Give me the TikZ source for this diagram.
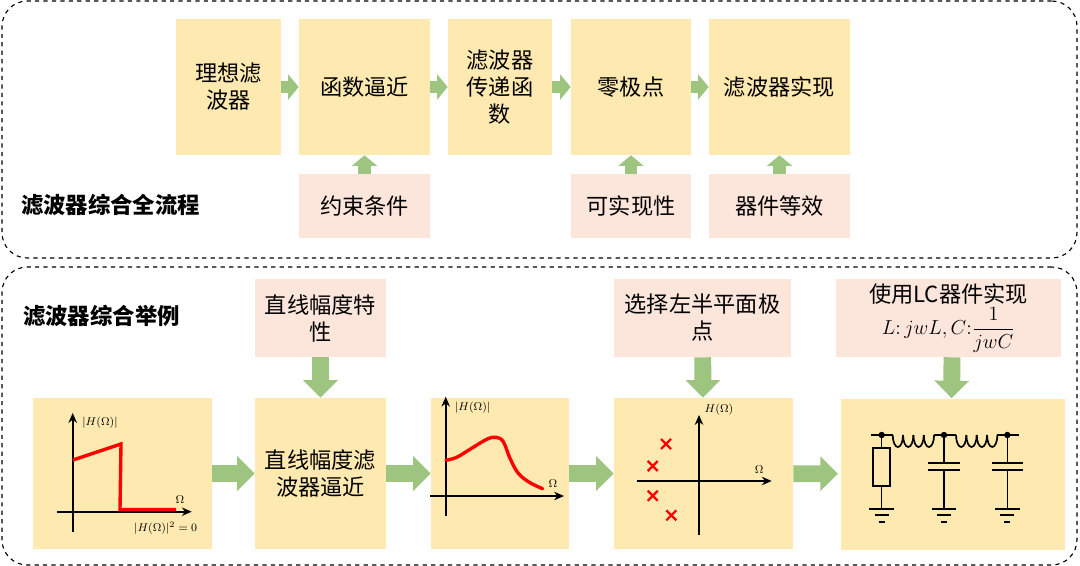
\documentclass[tikz,border=0pt]{standalone}
\usepackage{amsmath}
\usepackage{fontspec}
\setmainfont{Noto Sans CJK SC}
\usetikzlibrary{arrows.meta}
\definecolor{boxyellow}{HTML}{FEE9B0}
\definecolor{boxpink}{HTML}{FCE5DA}
\definecolor{arrowgreen}{HTML}{9DC580}
\tikzset{
	panel/.style 2 args={draw,dashed,line width=0.8pt,rounded corners=18pt,minimum width=#1*0.025cm,minimum height=#2*0.025cm,inner sep=0},
	yellowbox/.style 2 args={fill=boxyellow,minimum width=#1*0.025cm,minimum height=#2*0.025cm,inner sep=0,align=center,font=\fontsize{15.8}{19.2}\selectfont},
	pinkbox/.style 2 args={fill=boxpink,minimum width=#1*0.025cm,minimum height=#2*0.025cm,inner sep=0,align=center,font=\fontsize{15.8}{19.2}\selectfont},
	title/.style={font=\fontsize{15.9}{19.2}\selectfont\bfseries,inner sep=0},
	smallflow/.style={arrowgreen,line width=9pt,-{Triangle[width=17.5pt,length=7.5pt]}},
	bigflow/.style={arrowgreen,line width=12pt,-{Triangle[width=24pt,length=12.5pt]}},
	axis/.style={line width=1.6pt,-{Stealth[length=7pt,width=6pt]}},
	redcurve/.style={red,line width=2.4pt},
	polemark/.style={red,line width=1.6pt},
	wire/.style={line width=0.8pt},
	coilwire/.style={line width=1.2pt},
	plate/.style={line width=1.5pt},
	mathlabel/.style={font=\fontsize{8.4}{10}\selectfont,inner sep=0}
}
\begin{document}
\begin{tikzpicture}[x=0.025cm,y=-0.025cm]
	\useasboundingbox (0,0) rectangle (1080,566);

	% outer dashed frames
	\node[panel={1075}{257}] (flowpanel) at (539.5,129.5) {};
	\node[panel={1075}{298}] (examplepanel) at (539.5,416) {};
	\node[title] (flowtitle) at (110.5,205) {滤波器综合全流程};
	\node[title] (exampletitle) at (101.5,316) {滤波器综合举例};

	% full flow
	\node[yellowbox={105}{136}] (ideal) at (228.5,87) {理想滤\\波器};
	\node[yellowbox={131}{136}] (approx) at (364.5,87) {函数逼近};
	\node[yellowbox={104}{136}] (transfer) at (500,87) {滤波器\\传递函\\数};
	\node[yellowbox={120}{136}] (zeropole) at (631,87) {零极点};
	\node[yellowbox={141}{136}] (realize) at (779.5,87) {滤波器实现};
	\node[pinkbox={131}{64}] (constraint) at (364.5,206) {约束条件};
	\node[pinkbox={120}{64}] (feasible) at (631,206) {可实现性};
	\node[pinkbox={141}{64}] (equivalent) at (779.5,206) {器件等效};

	\draw[smallflow] (ideal) -- (approx);
	\draw[smallflow] (approx) -- (transfer);
	\draw[smallflow] (transfer) -- (zeropole);
	\draw[smallflow] (zeropole) -- (realize);
	\draw[smallflow] (constraint) -- (approx);
	\draw[smallflow] (feasible) -- (zeropole);
	\draw[smallflow] (equivalent) -- (realize);

	% example
	\node[yellowbox={179}{151}] (idealplot) at (122.5,473.5) {};
	\node[yellowbox={131}{151}] (lineapprox) at (320.5,473.5) {直线幅度滤\\波器逼近};
	\node[yellowbox={138}{151}] (curveplot) at (500,473.5) {};
	\node[yellowbox={179}{151}] (poleplot) at (703.5,473.5) {};
	\node[yellowbox={224}{151}] (circuit) at (953,474) {};
	\node[pinkbox={131}{78}] (linespec) at (320.5,318) {直线幅度特\\性};
	\node[pinkbox={177}{78}] (leftpoles) at (702.5,318) {选择左半平面极\\点};
	\node[pinkbox={225}{78}] (lcnote) at (948.5,318) {使用LC器件实现\\[1pt]{\fontsize{14.4}{16}\selectfont$L{:}\,jwL{,}\,C{:}\dfrac{1}{jwC}$}};

	\draw[bigflow] (idealplot) -- (lineapprox);
	\draw[bigflow] (lineapprox) -- (curveplot);
	\draw[bigflow] (curveplot) -- (poleplot);
	\draw[bigflow,shorten >=2pt] (poleplot) -- (circuit);
	\draw[bigflow] (linespec) -- (lineapprox);
	\draw[bigflow] (leftpoles) -- (poleplot);
	\draw[bigflow] ([xshift=2.5pt]lcnote.south) -- ([xshift=-1pt]circuit.north);

	% ideal response
	\draw[axis] (57,511.7) -- (191.7,511.7);
	\draw[axis] (72.7,531.7) -- (72.7,413);
	\draw[redcurve,line join=miter] (73,460) -- (121,444) -- (120,509.5) -- (176,509.5);
	\node[mathlabel] (idealy) at (100,422.7) {$|H(\Omega)|$};
	\node[mathlabel] (idealx) at (180,500) {$\Omega$};
	\node[mathlabel] (idealzero) at (165.7,527.7) {$|H(\Omega)|^2=0$};

	% approximated response
	\draw[axis] (430,496) -- (564,496);
	\draw[axis] (445.7,516) -- (445.7,396.7);
	\draw[redcurve,line cap=round] plot[smooth,tension=0.6] coordinates {(446,460.3) (456.7,457.3) (470,449.3) (486.7,439.3) (496,437.3) (503.3,441.7) (510,458.3) (518.3,473.3) (530,482.7) (542.7,488.7)};
	\node[mathlabel] (curvey) at (472.7,407.3) {$|H(\Omega)|$};
	\node[mathlabel] (curvex) at (553,484) {$\Omega$};

	% poles
	\draw[axis] (636.7,481) -- (771.7,481);
	\draw[axis] (699,535) -- (699,415);
	\foreach \x/\y in {666/444,652.7/466,652.7/495.7,671.3/515.3}
		\draw[polemark] (\x-5,\y-5) -- (\x+5,\y+5) (\x-5,\y+5) -- (\x+5,\y-5);
	\node[mathlabel] (poley) at (719,410) {$H(\Omega)$};
	\node[mathlabel] (polex) at (759.3,469.3) {$\Omega$};

	% ladder circuit
	\draw[wire] (870.7,435) -- (892.7,435);
	\draw[wire] (934,435) -- (956,435);
	\draw[wire] (997.3,435) -- (1019.3,435);
	\foreach \start in {892.7,956}
		\foreach \i in {0,1,2,3}
			\draw[coilwire] (\start+\i*10.35,435) arc[start angle=180,end angle=0,x radius=5.17,y radius=12];
	\foreach \x in {881.7,944,1007.3} {
		\fill (\x,435) circle (3.2);
		\draw[wire] (\x,435) -- (\x,509.3);
		\draw[plate] (\x-12.3,509.3) -- (\x+12.3,509.3);
		\draw[plate] (\x-7,515.3) -- (\x+7,515.3);
		\draw[plate] (\x-3,522) -- (\x+3,522);
	}
	\draw[plate,fill=boxyellow] (873.3,447.7) rectangle (890,486);
	\foreach \x in {944,1007.3} {
		\fill[boxyellow] (\x-16,463.3) rectangle (\x+16,470);
		\draw[plate] (\x-15.7,463.3) -- (\x+15.7,463.3);
		\draw[plate] (\x-15.7,470) -- (\x+15.7,470);
	}
\end{tikzpicture}
\end{document}
